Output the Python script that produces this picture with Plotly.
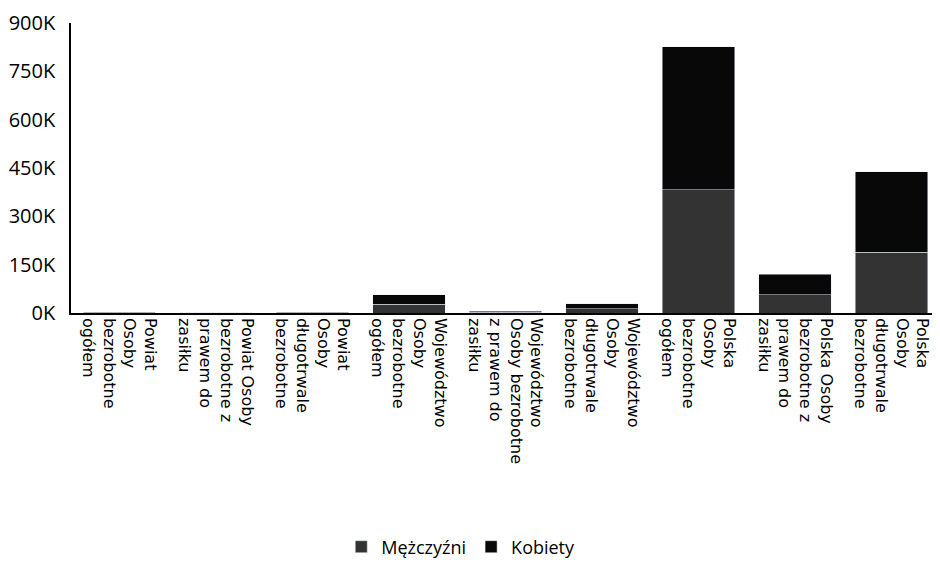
import plotly.graph_objects as go

# ---------- DADOS ----------
categorias = [
    "Powiat<br>Osoby<br>bezrobotne<br>ogółem",
    "Powiat Osoby<br>bezrobotne z<br>prawem do<br>zasiłku",
    "Powiat<br>Osoby<br>długotrwale<br>bezrobotne",
    "Województwo<br>Osoby<br>bezrobotne<br>ogółem",
    "Województwo<br>Osoby bezrobotne<br>z prawem do<br>zasiłku",
    "Województwo<br>Osoby<br>długotrwale<br>bezrobotne",
    "Polska<br>Osoby<br>bezrobotne<br>ogółem",
    "Polska Osoby<br>bezrobotne z<br>prawem do<br>zasiłku",
    "Polska<br>Osoby<br>długotrwale<br>bezrobotne",
]
mezczyzni = [1500, 300, 700, 27000, 2500, 13000, 382000, 56000, 189000]
kobiety = [1600, 400, 900, 29000, 2600, 15000, 444000, 65000, 249000]

y_ticks = [0, 150000, 300000, 450000, 600000, 750000, 900000]
y_tick_labels = ["0K", "150K", "300K", "450K", "600K", "750K", "900K"]

# ---------- GRÁFICO ----------
fig = go.Figure()
fig.add_trace(go.Bar(x=categorias, y=mezczyzni, name="Mężczyźni", marker_color="#333333"))
fig.add_trace(go.Bar(x=categorias, y=kobiety, name="Kobiety", marker_color="#080808"))

# a página tem margem de 8px no body, por isso 924x550
fig.update_layout(
    barmode="stack",
    bargap=0.25,
    width=924,
    height=550,
    margin=dict(l=63, r=0, t=15, b=245),
    plot_bgcolor="white",
    paper_bgcolor="white",
    font=dict(family="Open Sans", color="black", size=17),
    legend=dict(
        orientation="h",
        xref="container",
        yref="container",
        x=0.49,
        y=0.02,
        xanchor="center",
        yanchor="middle",
        font=dict(size=18),
        itemwidth=30,
        traceorder="normal",
    ),
    xaxis=dict(
        range=[-0.5, 8.42],
        tickangle=90,
        tickfont=dict(family="DejaVu Sans", size=16),
        showline=True,
        linecolor="black",
        linewidth=1.5,
        showgrid=False,
        ticks="",
        automargin=False,
    ),
    yaxis=dict(
        range=[0, 900000],
        tickvals=y_ticks,
        ticktext=y_tick_labels,
        tickfont=dict(size=20),
        ticklabelstandoff=10,
        showline=True,
        linecolor="black",
        linewidth=1.5,
        showgrid=False,
        zeroline=False,
        ticks="",
        automargin=False,
    ),
)

fig.write_html("out.html")
